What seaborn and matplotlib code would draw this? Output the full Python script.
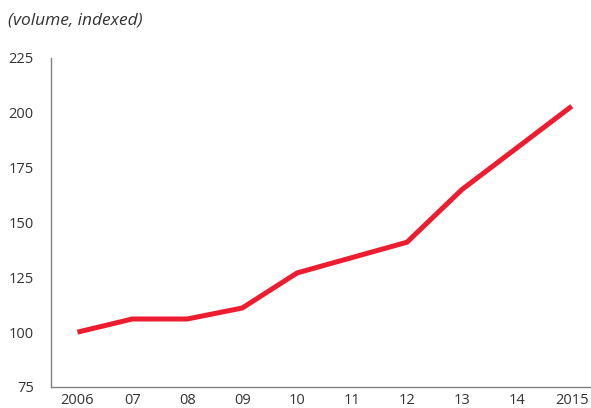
import matplotlib
matplotlib.use("Agg")
import matplotlib.pyplot as plt
import seaborn as sns
import pandas as pd

years = ["2006", "07", "08", "09", "10", "11", "12", "13", "14", "2015"]
volume_index = [100, 106, 106, 111, 127, 134, 141, 165, 184, 203]
y_ticks = [75, 100, 125, 150, 175, 200, 225]

sns.set_theme(style="white")
plt.rcParams["font.family"] = ["Open Sans", "DejaVu Sans"]

df = pd.DataFrame({"pos": range(len(years)), "value": volume_index})

fig = plt.figure(figsize=(5.91, 4.08), dpi=100)
ax = fig.add_axes([0.0855, 0.0515, 0.9145, 0.8065])

sns.lineplot(data=df, x="pos", y="value", ax=ax, color="#ED1C2E",
             linewidth=3.6, solid_joinstyle="miter", solid_capstyle="butt")

ax.set_xlim(-0.49, 9.35)
ax.set_ylim(75, 225)
ax.set_xticks(range(len(years)))
ax.set_xticklabels(years)
ax.set_yticks(y_ticks)
ax.set_xlabel("")
ax.set_ylabel("")
ax.tick_params(axis="both", length=0, labelsize=10.5, labelcolor="#333333")
ax.tick_params(axis="y", pad=12)
ax.tick_params(axis="x", pad=4.5)

for side in ("top", "right"):
    ax.spines[side].set_visible(False)
for side in ("left", "bottom"):
    ax.spines[side].set_color("#808080")
    ax.spines[side].set_linewidth(1.0)

fig.text(0.0135, 0.95, "(volume, indexed)", fontsize=12.5, style="italic",
         color="#333333", va="center", ha="left")

fig.savefig("out.png", dpi=100)
